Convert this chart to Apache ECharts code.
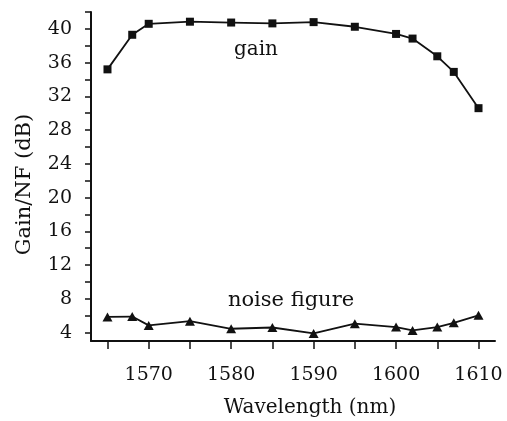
<!DOCTYPE html>
<html>
<head>
<meta charset="utf-8">
<script src="https://cdn.jsdelivr.net/npm/echarts@6/dist/echarts.min.js"></script>
<style>
  html, body { margin: 0; padding: 0; background: #fff; }
  #chart { width: 507px; height: 421px; }
</style>
</head>
<body>
<div id="chart"></div>
<script>
// wavelength (nm)
var gainWl = [1565, 1568, 1570, 1575, 1580, 1585, 1590, 1595, 1600, 1602, 1605, 1607, 1610];
var gainDb = [35.2, 39.3, 40.6, 40.85, 40.75, 40.65, 40.8, 40.25, 39.4, 38.85, 36.75, 34.9, 30.6];

var nfWl = [1565, 1568, 1570, 1575, 1580, 1585, 1590, 1595, 1600, 1602, 1605, 1607, 1610];
var nfDb = [5.85, 5.9, 4.85, 5.35, 4.45, 4.6, 3.9, 5.05, 4.65, 4.25, 4.65, 5.15, 6.05];

var xTicks = [1565, 1570, 1575, 1580, 1585, 1590, 1595, 1600, 1605, 1610];
var xLabels = [1570, 1580, 1590, 1600, 1610];
var yTicks = [4, 6, 8, 10, 12, 14, 16, 18, 20, 22, 24, 26, 28, 30, 32, 34, 36, 38, 40, 42];
var yLabels = [4, 8, 12, 16, 20, 24, 28, 32, 36, 40];

function pairs(xs, ys) {
    var out = [];
    for (var i = 0; i < xs.length; i++) out.push([xs[i], ys[i]]);
    return out;
}

var font = 'DejaVu Serif';
var ink = '#111';

var chart = echarts.init(document.getElementById('chart'));
chart.setOption({
    animation: false,
    backgroundColor: '#fff',
    grid: { left: 91, right: 12, top: 12, bottom: 80, outerBoundsMode: 'none' },
    xAxis: {
        type: 'value',
        min: 1563,
        max: 1612,
        name: 'Wavelength (nm)',
        nameLocation: 'middle',
        nameGap: 57,
        nameTextStyle: { fontFamily: font, fontSize: 20, color: ink, padding: [0, 0, 0, 34] },
        axisLine: { lineStyle: { color: ink, width: 2 } },
        axisTick: { customValues: xTicks, length: 8, lineStyle: { color: ink, width: 1.5 } },
        axisLabel: {
            customValues: xLabels, margin: 25, fontFamily: font, fontSize: 19, color: ink,
            formatter: function (v) { return String(v); }
        },
        splitLine: { show: false }
    },
    yAxis: {
        type: 'value',
        min: 3,
        max: 42,
        name: 'Gain/NF (dB)',
        nameLocation: 'middle',
        nameGap: 56,
        nameTextStyle: { fontFamily: font, fontSize: 21, color: ink, padding: [0, 16, 0, 0] },
        axisLine: { lineStyle: { color: ink, width: 2 } },
        axisTick: { customValues: yTicks, length: 6, lineStyle: { color: ink, width: 1.5 } },
        axisLabel: { customValues: yLabels, margin: 19, fontFamily: font, fontSize: 19, color: ink },
        splitLine: { show: false }
    },
    graphic: [
        { type: 'text', x: 256, y: 50, style: { text: 'gain', align: 'center', verticalAlign: 'middle', font: '20px "DejaVu Serif"', fill: ink } },
        { type: 'text', x: 291, y: 301, style: { text: 'noise figure', align: 'center', verticalAlign: 'middle', font: '21px "DejaVu Serif"', fill: ink } }
    ],
    series: [
        {
            name: 'gain',
            type: 'line',
            data: pairs(gainWl, gainDb),
            symbol: 'rect',
            symbolSize: 8,
            itemStyle: { color: ink },
            lineStyle: { color: ink, width: 1.8 }
        },
        {
            name: 'noise figure',
            type: 'line',
            data: pairs(nfWl, nfDb),
            symbol: 'triangle',
            symbolSize: [10, 9],
            itemStyle: { color: ink },
            lineStyle: { color: ink, width: 1.8 }
        }
    ]
});
</script>
</body>
</html>
